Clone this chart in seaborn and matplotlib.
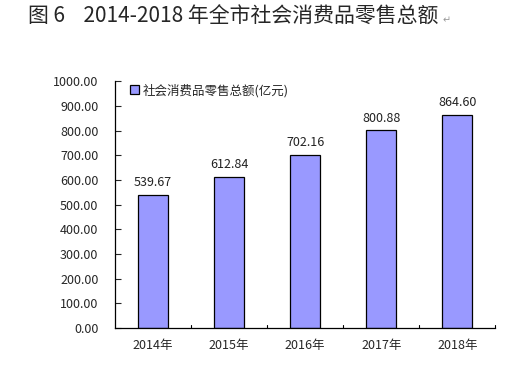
import pandas as pd
import matplotlib
matplotlib.use('Agg')
import matplotlib.pyplot as plt
import seaborn as sns

years = ['2014年', '2015年', '2016年', '2017年', '2018年']
sales = [539.67, 612.84, 702.16, 800.88, 864.60]
series_name = '社会消费品零售总额(亿元)'
title = '图 6    2014-2018 年全市社会消费品零售总额'
yticks = [0, 100, 200, 300, 400, 500, 600, 700, 800, 900, 1000]

sns.set_style('white')
plt.rcParams['font.family'] = ['Noto Sans CJK SC', 'DejaVu Sans']
plt.rcParams['axes.unicode_minus'] = False

df = pd.DataFrame({'年份': years, '金额': sales, '系列': series_name})

fig = plt.figure(figsize=(5.28, 3.67), dpi=100)
ax = fig.add_axes([0.218, 0.106, 0.72, 0.673])

sns.barplot(data=df, x='年份', y='金额', hue='系列', palette=['#9999FF'],
            saturation=1, width=0.4, edgecolor='black', linewidth=0.9, ax=ax)

for i, v in enumerate(sales):
    ax.text(i, v + 22, f'{v:.2f}', ha='center', va='bottom', fontsize=9, color='#222222')

ax.set_ylim(0, 1000)
ax.set_xlim(-0.5, 4.5)
ax.set_yticks(yticks)
ax.set_yticklabels([f'{t:.2f}' for t in yticks], fontsize=9)
ax.set_xticks(range(len(years)))
ax.set_xticklabels(years, fontsize=9)
ax.tick_params(axis='x', length=0, pad=8)
ax.tick_params(axis='y', direction='in', length=4, width=0.8, pad=12, left=True)
# category separator ticks on the x axis
for b in [0.5, 1.5, 2.5, 3.5, 4.5]:
    ax.plot([b, b], [0, 12], color='black', lw=0.8, clip_on=False)

for s in ['top', 'right']:
    ax.spines[s].set_visible(False)
for s in ['left', 'bottom']:
    ax.spines[s].set_color('black')
    ax.spines[s].set_linewidth(0.9)

ax.set_xlabel('')
ax.set_ylabel('')
ax.legend(loc='upper left', bbox_to_anchor=(0.02, 1.02), frameon=False, fontsize=9,
          handlelength=0.7, handleheight=0.7, handletextpad=0.3, borderaxespad=0.2)

fig.text(0.053, 0.955, title, fontsize=15, fontweight='normal', va='center', ha='left')
fig.text(0.838, 0.945, '↵', fontsize=7, color='#999999', va='center', ha='left',
         family='DejaVu Sans')

fig.savefig('out.png', dpi=100)
